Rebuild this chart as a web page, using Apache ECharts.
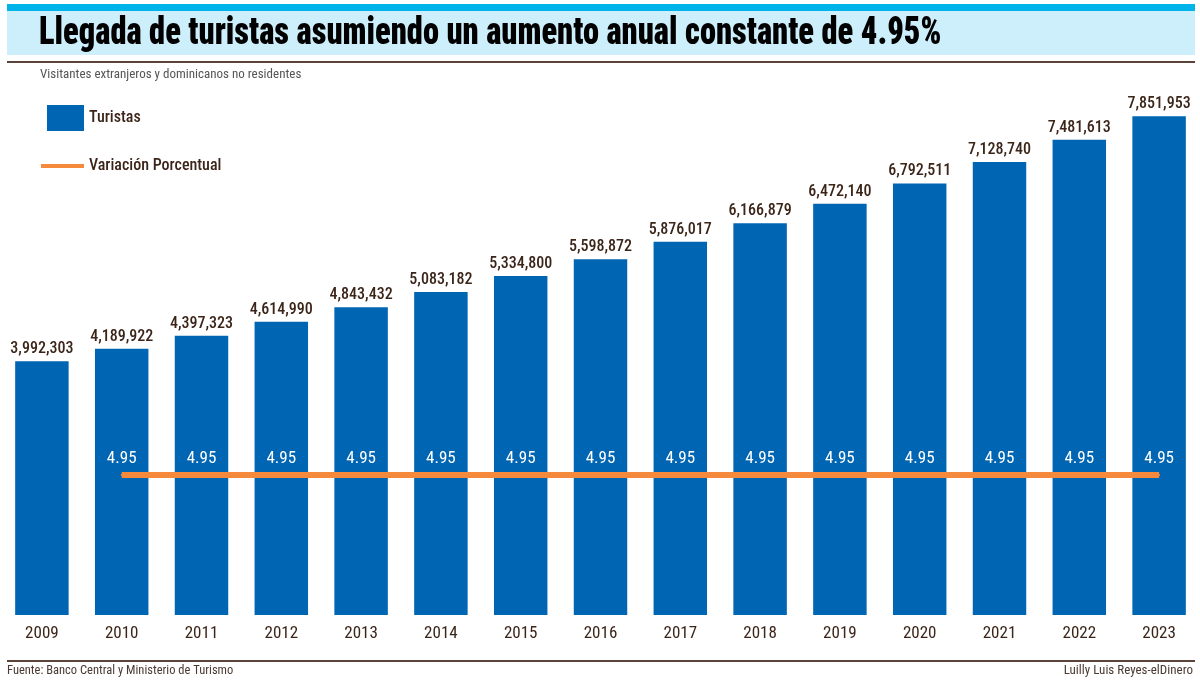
<!DOCTYPE html>
<html>
<head>
<meta charset="utf-8">
<script src="https://cdn.jsdelivr.net/npm/echarts@6/dist/echarts.min.js"></script>
<style>html,body{margin:0;padding:0;background:#fff;}#c{width:1200px;height:689px;}</style>
</head>
<body>
<div id="c"></div>
<script>
const years = ['2009','2010','2011','2012','2013','2014','2015','2016','2017','2018','2019','2020','2021','2022','2023'];
const turistas = [3992303,4189922,4397323,4614990,4843432,5083182,5334800,5598872,5876017,6166879,6472140,6792511,7128740,7481613,7851953];
const variacion = [null,4.95,4.95,4.95,4.95,4.95,4.95,4.95,4.95,4.95,4.95,4.95,4.95,4.95,4.95];

const NARROW = '"Liberation Sans Narrow", "Arial Narrow", "Roboto Condensed", sans-serif';
const TXT = '#3b2418';
const ORANGE = '#f58a3c';
const chart = echarts.init(document.getElementById('c'));
chart.setOption({
  animation: false,
  backgroundColor: '#fff',
  graphic: [
    {type:'rect', shape:{x:7,y:4,width:1188,height:7}, style:{fill:'#00b4ea'}, z:0},
    {type:'rect', shape:{x:7,y:11,width:1188,height:44}, style:{fill:'#cdeefb'}, z:0},
    {type:'rect', shape:{x:7,y:61,width:1188,height:2}, style:{fill:'#5b4339'}, z:0},
    {type:'rect', shape:{x:7,y:660,width:1188,height:2}, style:{fill:'#5b4339'}, z:0},
    {type:'text', x:39, y:34, scaleX:0.855, style:{text:'Llegada de turistas asumiendo un aumento anual constante de 4.95%', font:'900 38px '+NARROW, fill:'#000', textVerticalAlign:'middle', verticalAlign:'middle'}, z:5},
    {type:'text', left:40, top:68, style:{text:'Visitantes extranjeros y dominicanos no residentes', font:'13px '+NARROW, fill:'#555'}},
    {type:'text', left:7, top:664, style:{text:'Fuente: Banco Central y Ministerio de Turismo', font:'12.5px '+NARROW, fill:'#4a3a33'}},
    {type:'text', right:7, top:664, style:{text:'Luilly Luis Reyes-elDinero', font:'13px '+NARROW, fill:'#4a3a33'}}
  ],
  legend: [
    {data:['Turistas'], left:42, top:100, itemWidth:37, itemHeight:26, itemGap:10,
     textStyle:{fontFamily:NARROW, fontSize:16, fontWeight:500, color:TXT}, icon:'rect'},
    {data:[{name:'Variación Porcentual', itemStyle:{color:ORANGE, opacity:1}}], left:36, top:153, itemWidth:43, itemHeight:4,
     textStyle:{fontFamily:NARROW, fontSize:16, fontWeight:500, color:TXT}, icon:'rect'}
  ],
  grid: {left:2, right:1, top:75, bottom:74, containLabel:false},
  xAxis: {
    type:'category', data: years,
    axisLine:{show:false}, axisTick:{show:false},
    axisLabel:{fontFamily:NARROW, fontSize:17, color:TXT, margin:10}
  },
  yAxis: [
    {type:'value', min:0, max:8500000, show:false, splitLine:{show:false}},
    {type:'value', min:0, max:19.1, show:false, splitLine:{show:false}}
  ],
  series: [
    {name:'Turistas', type:'bar', data: turistas, barWidth:'67%', itemStyle:{color:'#0066b3'},
     label:{show:true, position:'top', distance:4, fontFamily:NARROW, fontSize:16, fontWeight:500, color:TXT,
       formatter: p => p.value.toLocaleString('en-US')}},
    {name:'Variación Porcentual', type:'line', yAxisIndex:1, data: variacion, symbol:'circle', symbolSize:2,
     showSymbol:true, lineStyle:{color:ORANGE, width:6}, itemStyle:{color:ORANGE},
     label:{show:true, position:'top', distance:7, fontFamily:NARROW, fontSize:17, color:'#fff'}}
  ]
});
</script>
</body>
</html>
